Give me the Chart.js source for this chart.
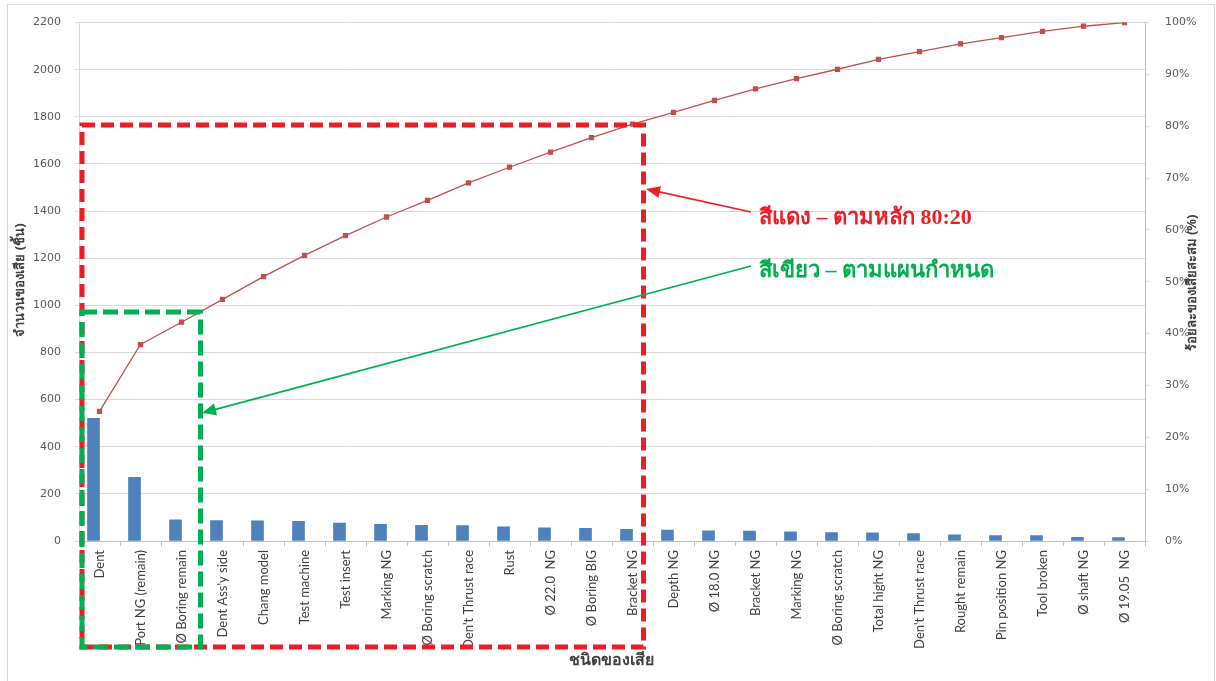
<!DOCTYPE html>
<html>
<head>
<meta charset="utf-8">
<script src="https://cdn.jsdelivr.net/npm/chart.js@4.4.0/dist/chart.umd.min.js"></script>
<style>
body{margin:0;background:#fff;}
</style>
</head>
<body>
<canvas id="paretoChart" width="1216" height="681"></canvas>
<script>
// ชนิดของเสีย (x axis)
const categories = ['Dent','Port NG (remain)','Ø Boring remain',"Dent Ass'y side",'Chang model','Test machine','Test insert','Marking NG','Ø Boring scratch',"Den't Thrust race",'Rust','Ø 22.0  NG','Ø Boring BIG','Bracket NG','Depth NG','Ø 18.0 NG','Bracket NG','Marking NG','Ø Boring scratch','Total hight NG',"Den't Thrust race",'Rought remain','Pin position NG','Tool broken','Ø shaft NG','Ø 19.05  NG'];
// จำนวนของเสีย (ชิ้น)
const defectCounts = [521,270,90,87,86,83,76,71,67,65,60,56,54,50,46,43,42,39,36,35,31,26,23,23,16,14];
// ร้อยละของเสียสะสม (%)
const cumulativePct = [25.0,37.9,42.2,46.6,51.0,55.1,58.9,62.5,65.7,69.1,72.1,75.0,77.8,80.4,82.7,85.0,87.2,89.2,91.0,92.9,94.4,95.9,97.1,98.3,99.3,100];
const countTicks = [0,200,400,600,800,1000,1200,1400,1600,1800,2000,2200];
const pctTicks = [0,10,20,30,40,50,60,70,80,90,100];

const leftTitle = 'จำนวนของเสีย (ชิ้น)';
const rightTitle = 'ร้อยละของเสียสะสม (%)';
const xTitle = 'ชนิดของเสีย';
const redNote = 'สีแดง – ตามหลัก 80:20';
const greenNote = 'สีเขียว – ตามแผนกำหนด';

const RED = '#ee1c25';
const GREEN = '#00b050';

function arrow(ctx, x1, y1, x2, y2, color){
	const ang = Math.atan2(y2 - y1, x2 - x1);
	const len = 14, half = 6;
	ctx.save();
	ctx.setLineDash([]);
	ctx.strokeStyle = color;
	ctx.fillStyle = color;
	ctx.lineWidth = 1.6;
	ctx.beginPath();
	ctx.moveTo(x1, y1);
	ctx.lineTo(x2 - Math.cos(ang)*len*0.8, y2 - Math.sin(ang)*len*0.8);
	ctx.stroke();
	ctx.beginPath();
	ctx.moveTo(x2, y2);
	ctx.lineTo(x2 - Math.cos(ang)*len - Math.sin(ang)*half, y2 - Math.sin(ang)*len + Math.cos(ang)*half);
	ctx.lineTo(x2 - Math.cos(ang)*len + Math.sin(ang)*half, y2 - Math.sin(ang)*len - Math.cos(ang)*half);
	ctx.closePath();
	ctx.fill();
	ctx.restore();
}

const overlay = {
	id: 'overlay',
	beforeDraw(chart){
		const ctx = chart.ctx;
		ctx.save();
		ctx.fillStyle = '#fff';
		ctx.fillRect(0, 0, chart.width, chart.height);
		ctx.strokeStyle = '#d9d9d9';
		ctx.lineWidth = 1;
		ctx.strokeRect(7.5, 4.5, 1207, 700);
		ctx.restore();
	},
	afterDraw(chart){
		const ctx = chart.ctx;
		ctx.save();
		// axis titles
		ctx.fillStyle = '#404040';
		ctx.textAlign = 'center';
		ctx.textBaseline = 'middle';
		ctx.font = 'bold 13px "Noto Sans", "DejaVu Sans", sans-serif';
		ctx.save();
		ctx.translate(20, 280);
		ctx.rotate(-Math.PI/2);
		ctx.fillText(leftTitle, 0, 0);
		ctx.restore();
		ctx.save();
		ctx.translate(1192, 283);
		ctx.rotate(-Math.PI/2);
		ctx.fillText(rightTitle, 0, 0);
		ctx.restore();
		ctx.font = 'bold 16px "Noto Sans", "DejaVu Sans", sans-serif';
		ctx.fillText(xTitle, 611, 660);

		// dashed boxes
		ctx.lineWidth = 5;
		ctx.strokeStyle = RED;
		ctx.setLineDash([13, 6]);
		ctx.strokeRect(82, 125, 561.5, 522);
		ctx.strokeStyle = GREEN;
		ctx.setLineDash([15, 6]);
		ctx.strokeRect(82, 312, 118.5, 335);

		// arrows + notes
		arrow(ctx, 751, 212, 646, 189, RED);
		arrow(ctx, 751, 266, 202, 413, GREEN);
		ctx.textAlign = 'left';
		ctx.textBaseline = 'alphabetic';
		ctx.font = 'bold 22px "Liberation Serif", "Noto Sans", serif';
		ctx.fillStyle = RED;
		ctx.fillText(redNote, 759, 224);
		ctx.fillStyle = GREEN;
		ctx.fillText(greenNote, 759, 277);
		ctx.restore();
	}
};

new Chart(document.getElementById('paretoChart'), {
	data: {
		labels: categories,
		datasets: [
			{
				type: 'line',
				label: 'cumulative',
				data: cumulativePct,
				yAxisID: 'y1',
				borderColor: '#c0504d',
				backgroundColor: '#c0504d',
				borderWidth: 1.3,
				pointStyle: 'rect',
				pointRadius: 2.8,
				tension: 0,
				order: 0
			},
			{
				type: 'bar',
				label: 'count',
				data: defectCounts,
				yAxisID: 'y',
				backgroundColor: '#4f81bd',
				barThickness: 12,
				order: 1
			},
			{
				// empty second series, pushes bars left like the Excel original
				type: 'bar',
				label: '',
				data: [],
				yAxisID: 'y',
				barThickness: 12,
				order: 2
			}
		]
	},
	options: {
		responsive: false,
		animation: false,
		layout: {padding: {top: 22, right: 0, left: 0, bottom: 0}},
		plugins: {legend: {display: false}, tooltip: {enabled: false}},
		scales: {
			x: {
				grid: {offset: true, drawOnChartArea: false, tickLength: 5, color: '#bfbfbf'},
				border: {color: '#bfbfbf'},
				ticks: {autoSkip: false, maxRotation: 90, minRotation: 90, padding: 4, color: '#404040', font: {family: 'Lato', size: 13}},
				afterFit: (s) => { s.height = 140; }
			},
			y: {
				position: 'left',
				min: 0,
				max: 2200,
				afterBuildTicks: (s) => { s.ticks = countTicks.map(v => ({value: v})); },
				grid: {color: '#d9d9d9', tickLength: 4},
				border: {color: '#d9d9d9'},
				ticks: {color: '#595959', padding: 14, font: {family: 'DejaVu Sans', size: 11}, callback: (v) => String(v)},
				afterFit: (s) => { s.width = 79; }
			},
			y1: {
				position: 'right',
				min: 0,
				max: 100,
				afterBuildTicks: (s) => { s.ticks = pctTicks.map(v => ({value: v})); },
				grid: {drawOnChartArea: false, color: '#d9d9d9', tickLength: 4},
				border: {color: '#bfbfbf'},
				ticks: {color: '#595959', padding: 16, font: {family: 'DejaVu Sans', size: 11}, callback: (v) => v + '%'},
				afterFit: (s) => { s.width = 71; }
			}
		}
	},
	plugins: [overlay]
});
</script>
</body>
</html>
